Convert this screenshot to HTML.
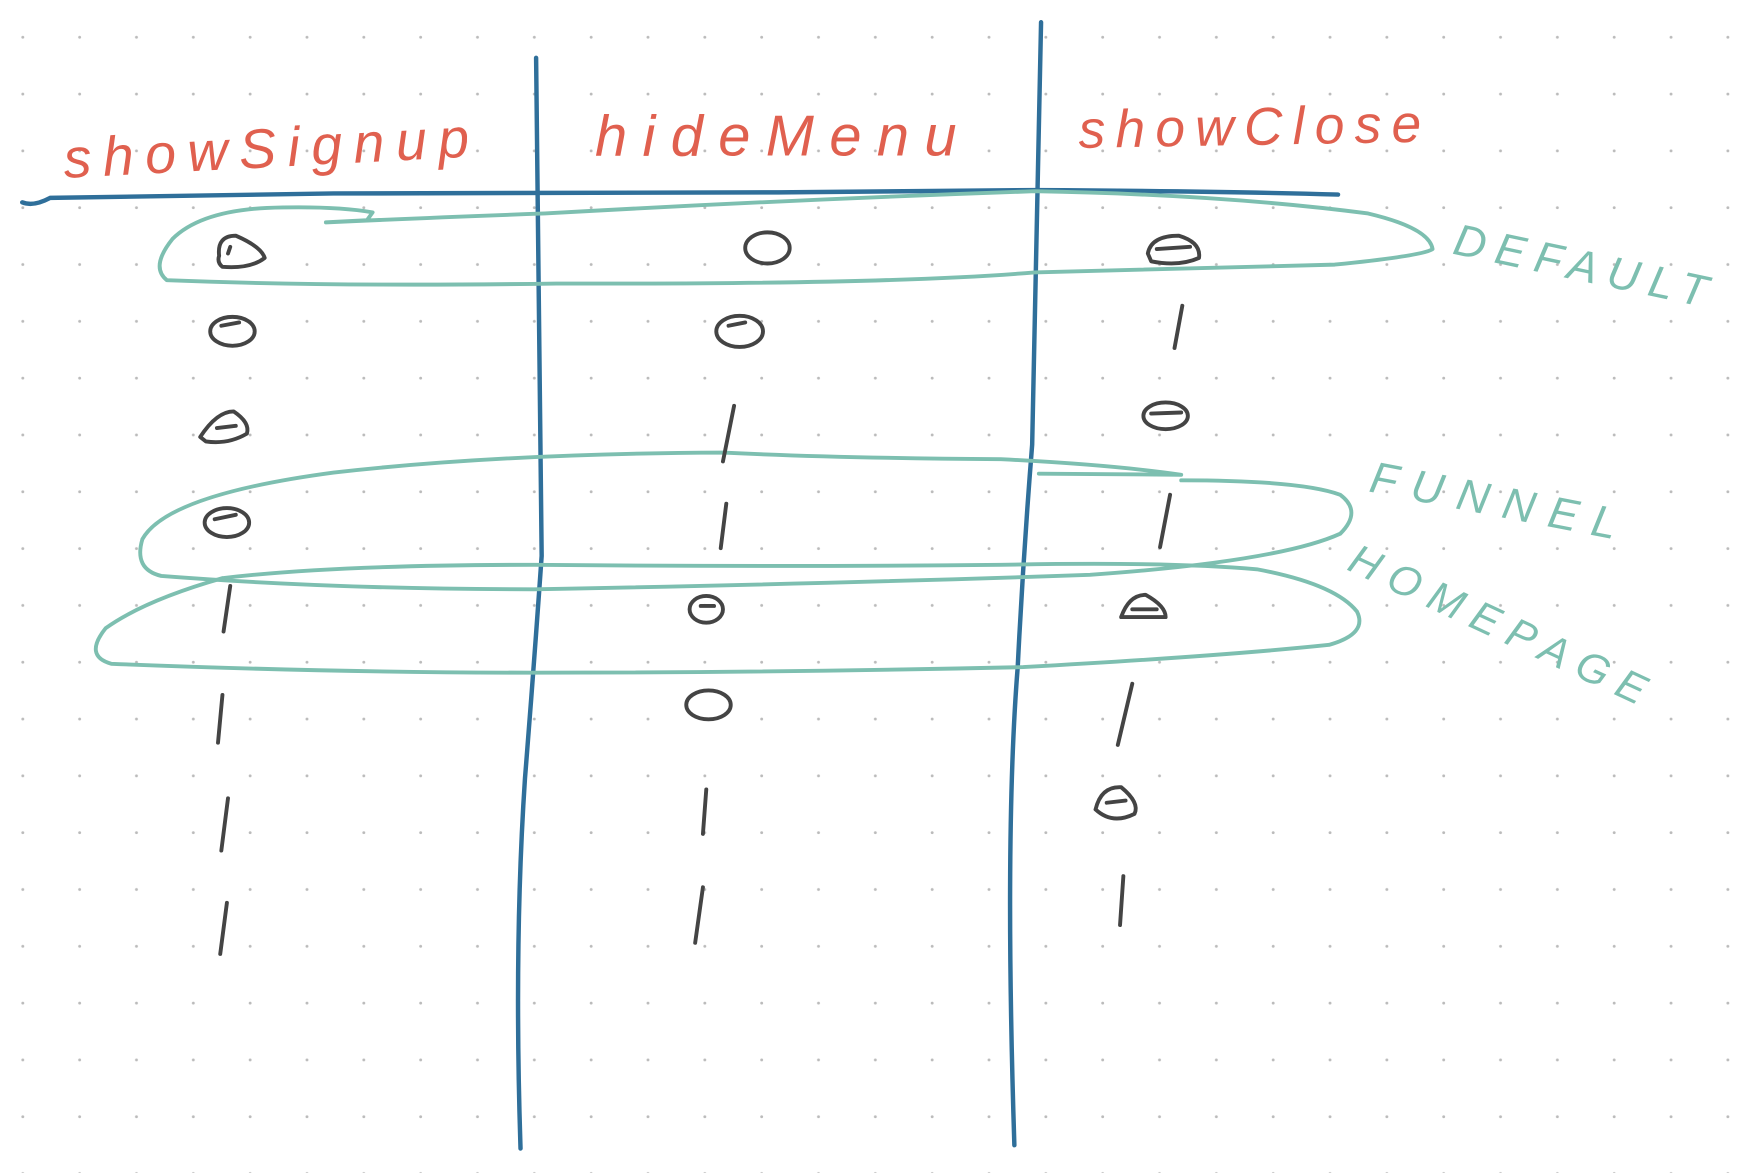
<!DOCTYPE html>
<html><head><meta charset="utf-8"><style>
html,body{margin:0;padding:0;background:#fff;}
svg{display:block}
</style></head><body>
<svg width="1744" height="1173" viewBox="0 0 1568 1055" preserveAspectRatio="none" xmlns="http://www.w3.org/2000/svg">
<defs><pattern id="d" x="19" y="32" width="51.1" height="51.1" patternUnits="userSpaceOnUse"><circle cx="1.5" cy="1.5" r="1.3" fill="#bbb"/></pattern></defs>
<rect width="1568" height="1055" fill="url(#d)"/>
<g fill="none" stroke-linecap="round" stroke-linejoin="round">
<g stroke="#2f6f9a" stroke-width="4">
<path d="M20 182 Q30 186 45 178 L300 174 L700 173 L930 171 Q1100 172 1203 175"/>
<path d="M482 52 Q485 300 487 500 Q480 600 472 700 Q462 850 468 1033"/>
<path d="M936 20 Q932 200 928 400 Q920 500 915 600 Q903 750 912 1030"/>
</g>
<g stroke="#7dbfb0" stroke-width="3.5">
<path d="M293 200 L330 198 L335 191 Q300 185 240 187 Q180 190 155 215 Q135 240 150 252 Q300 258 500 255 Q800 256 930 245 Q1100 240 1200 238 Q1280 230 1288 224 Q1285 205 1230 192 Q1100 175 930 172 Q700 180 490 192 Q380 196 293 200"/>
<path d="M934 426 L1062 427 M1062 427 Q1000 418 900 413 Q750 412 650 407 Q450 408 300 425 Q150 445 128 485 Q120 512 145 518 Q300 530 480 530 Q750 525 980 517 Q1150 505 1205 480 Q1225 460 1205 445 Q1170 432 1062 432"/>
<path d="M200 520 Q130 540 95 565 Q75 590 100 597 Q300 605 480 605 Q700 605 920 600 Q1100 590 1195 580 Q1230 570 1220 550 Q1200 525 1130 512 Q1050 505 900 508 Q700 510 480 508 Q300 508 200 520"/>
</g>
<g stroke="#444" stroke-width="3.5">
<path d="M197 230 Q195 212 212 212 Q235 222 238 232 Q225 242 200 240 Q195 236 197 230 M207 222 L205 228"/>
<ellipse cx="690" cy="223" rx="20" ry="14"/>
<path d="M1032 228 Q1035 212 1060 212 Q1080 218 1078 232 Q1060 240 1035 235 Z M1040 224 L1070 222"/>
<ellipse cx="209" cy="298" rx="20" ry="13"/><path d="M199 293 L215 290"/>
<ellipse cx="665" cy="298" rx="21" ry="14"/><path d="M655 293 L670 290"/>
<path d="M180 393 Q195 370 210 370 Q225 380 222 390 Q205 400 185 397 Z M195 385 L212 383"/>
<ellipse cx="1048" cy="374" rx="20" ry="12"/><path d="M1035 372 L1062 371"/>
<ellipse cx="204" cy="470" rx="20" ry="13"/><path d="M193 467 L212 463"/>
<ellipse cx="635" cy="548" rx="15" ry="12"/><path d="M630 545 L642 545"/>
<path d="M1008 555 Q1015 535 1030 535 Q1048 545 1048 555 Z M1018 548 L1040 548"/>
<ellipse cx="637" cy="634" rx="20" ry="13"/>
<path d="M985 728 Q990 707 1008 708 Q1025 722 1020 732 Q1000 742 985 728 M995 722 L1012 720"/>
</g>
<g stroke="#444" stroke-width="3.5">
<path d="M1063 275 L1056 313 M1052 445 L1043 492 M1018 615 L1005 670 M1010 788 L1007 832"/>
<path d="M660 365 L650 415 M653 453 L648 493 M635 710 L632 750 M632 798 L625 848"/>
<path d="M207 527 L201 568 M200 625 L196 668 M205 718 L199 765 M204 812 L198 858"/>
</g>
</g>
<g font-family="'Liberation Sans',sans-serif" font-style="italic">
<text x="58" y="160" font-size="50" fill="#e0604f" textLength="365" lengthAdjust="spacing" transform="rotate(-3 58 160)">showSignup</text>
<text x="535" y="140" font-size="52" fill="#e0604f" textLength="325" lengthAdjust="spacing">hideMenu</text>
<text x="970" y="133" font-size="48" fill="#e0604f" textLength="308" lengthAdjust="spacing" transform="rotate(-1 970 133)">showClose</text>
<text x="1305" y="228" font-size="40" fill="#7dbfb0" textLength="232" lengthAdjust="spacing" transform="rotate(12 1305 228)">DEFAULT</text>
<text x="1230" y="442" font-size="40" fill="#7dbfb0" textLength="225" lengthAdjust="spacing" transform="rotate(11 1230 442)">FUNNEL</text>
<text x="1210" y="512" font-size="38" fill="#7dbfb0" textLength="290" lengthAdjust="spacing" transform="rotate(25 1210 512)">HOMEPAGE</text>
</g>
</svg>
</body></html>
